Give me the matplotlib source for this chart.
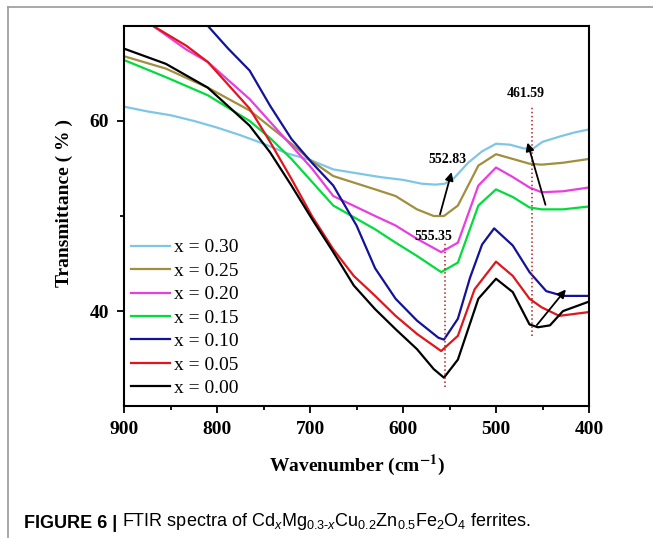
import matplotlib.pyplot as plt
from matplotlib.lines import Line2D

plt.rcParams["mathtext.fontset"] = "custom"
plt.rcParams["mathtext.rm"] = "Liberation Sans"
plt.rcParams["mathtext.it"] = "Liberation Sans:italic"
plt.rcParams["mathtext.bf"] = "Liberation Sans:bold"

# wavenumber (cm-1) / transmittance (%)
wn_030 = [900, 875, 850, 825, 800, 775, 750, 725, 700, 675, 650, 625, 600, 580, 565, 555, 545, 530, 515, 500, 485, 470, 460, 450, 440, 430, 415, 400]
t_030 = [61.5, 61.0, 60.6, 60.0, 59.3, 58.5, 57.6, 56.6, 55.9, 54.9, 54.5, 54.1, 53.8, 53.4, 53.3, 53.4, 54.0, 55.6, 56.8, 57.6, 57.5, 57.1, 57.1, 57.8, 58.1, 58.4, 58.8, 59.1]

wn_025 = [900, 855, 810, 765, 720, 700, 675, 630, 608, 585, 567, 556, 541, 519, 500, 482, 464, 451, 428, 400]
t_025 = [66.8, 65.5, 63.5, 61.1, 57.6, 55.9, 54.2, 52.8, 52.1, 50.7, 50.0, 50.0, 51.1, 55.3, 56.5, 56.0, 55.5, 55.4, 55.6, 56.0]

wn_020 = [900, 869, 833, 810, 765, 720, 698, 675, 630, 608, 585, 559, 541, 519, 500, 482, 464, 451, 428, 400]
t_020 = [72.5, 70.0, 67.5, 66.2, 62.3, 57.4, 55.0, 52.1, 50.0, 49.0, 47.6, 46.2, 47.2, 53.2, 55.1, 54.1, 53.0, 52.5, 52.6, 53.0]

wn_015 = [900, 855, 810, 765, 743, 720, 675, 630, 608, 585, 559, 541, 519, 500, 482, 464, 451, 428, 400]
t_015 = [66.4, 64.6, 62.7, 60.0, 58.2, 56.0, 51.1, 48.6, 47.2, 45.8, 44.1, 45.1, 51.1, 52.8, 52.0, 50.9, 50.7, 50.7, 51.0]

wn_010 = [900, 810, 788, 765, 743, 720, 698, 675, 650, 630, 608, 585, 562, 556, 541, 528, 515, 502, 482, 464, 446, 428, 400]
t_010 = [80.0, 70.0, 67.6, 65.3, 61.6, 58.1, 55.6, 53.2, 49.0, 44.5, 41.3, 39.0, 37.2, 37.0, 39.2, 43.5, 47.0, 48.7, 46.9, 44.1, 42.1, 41.6, 41.6]

wn_005 = [900, 869, 833, 810, 765, 743, 720, 698, 675, 653, 630, 608, 585, 559, 541, 523, 500, 482, 464, 451, 432, 400]
t_005 = [73.0, 70.0, 67.9, 66.2, 61.3, 57.8, 53.9, 50.0, 46.5, 43.7, 41.6, 39.5, 37.6, 35.8, 37.4, 42.3, 45.2, 43.7, 41.3, 40.4, 39.5, 39.9]

wn_000 = [900, 855, 810, 765, 743, 720, 698, 675, 653, 630, 608, 585, 567, 556, 541, 519, 500, 482, 464, 455, 442, 428, 400]
t_000 = [67.6, 66.0, 63.5, 59.5, 56.7, 53.2, 49.7, 46.2, 42.7, 40.2, 38.1, 36.0, 33.9, 33.0, 34.9, 41.3, 43.4, 42.0, 38.6, 38.3, 38.5, 40.0, 41.0]

series = [
    ("x = 0.30", wn_030, t_030, "#7fc6e6"),
    ("x = 0.25", wn_025, t_025, "#a08f3c"),
    ("x = 0.20", wn_020, t_020, "#e83ee0"),
    ("x = 0.15", wn_015, t_015, "#00dc3c"),
    ("x = 0.10", wn_010, t_010, "#12129a"),
    ("x = 0.05", wn_005, t_005, "#e0161c"),
    ("x = 0.00", wn_000, t_000, "black"),
]

peak_lines = [555.35, 461.59]

fig = plt.figure(figsize=(6.53, 5.38), dpi=100)
ax = fig.add_axes([0.190, 0.245, 0.712, 0.707])

for label, wn, t, c in series:
    ax.plot(wn, t, color=c, lw=1.6, label=label)

ax.plot([peak_lines[0], peak_lines[0]], [32.0, 47.2], color="#b22222", ls=":", lw=1.1)
ax.plot([peak_lines[1], peak_lines[1]], [37.4, 61.6], color="#b22222", ls=":", lw=1.1)

bold_serif = dict(family="Liberation Serif", fontweight="bold", fontsize=10)
ax.text(467.5, 62.9, "461.59", ha="center", va="center", **bold_serif)
ax.text(552, 55.9, "552.83", ha="center", va="center", **bold_serif)
ax.text(567, 47.8, "555.35", ha="center", va="center", **bold_serif)

arw = dict(arrowstyle="-|>", color="black", lw=1.3, mutation_scale=12)
ax.annotate("", xy=(547, 54.9), xytext=(561, 49.9), arrowprops=arw)
ax.annotate("", xy=(467, 58.0), xytext=(446, 50.9), arrowprops=arw)
ax.annotate("", xy=(423, 42.5), xytext=(458, 38.3), arrowprops=arw)

ax.set_xlim(900, 400)
ax.set_ylim(30, 70)
ax.set_xticks([900, 800, 700, 600, 500, 400])
ax.set_xticks([850, 750, 650, 550, 450], minor=True)
ax.set_yticks([40, 60])
ax.set_yticks([50], minor=True)
ax.tick_params(which="both", direction="out", width=1.3)
ax.tick_params(which="major", length=5, pad=6)
ax.tick_params(which="minor", length=3)
for lab in ax.get_xticklabels() + ax.get_yticklabels():
    lab.set_family("Liberation Serif")
    lab.set_fontweight("bold")
    lab.set_fontsize(14)
for s in ax.spines.values():
    s.set_linewidth(1.5)

ax.set_xlabel(r"Wavenumber (cm$^{\mathbf{-1}}$)", family="Liberation Serif",
              fontweight="bold", fontsize=14, math_fontfamily="stix", labelpad=10)
ax.set_ylabel("Transmittance ( % )", family="Liberation Serif",
              fontweight="bold", fontsize=14)
ax.yaxis.set_label_coords(-0.11, 0.535)

ax.legend(loc="upper left", bbox_to_anchor=(0.015, 0.44), frameon=False,
          prop=dict(family="Liberation Serif", size=14), handlelength=2.0,
          handletextpad=0.2, labelspacing=0.3, borderpad=0, borderaxespad=0)

# grey frame around the figure panel
fig.add_artist(Line2D([8 / 653, 8 / 653], [0, 1 - 7 / 538], color="#9a9a9a", lw=1.2))
fig.add_artist(Line2D([8 / 653, 1], [1 - 7 / 538, 1 - 7 / 538], color="#9a9a9a", lw=1.2))

cap1 = fig.text(24 / 653, 10 / 538, "FIGURE 6 | ", family="Liberation Sans",
                fontweight="bold", fontsize=13, va="baseline")
plt.annotate(r"FTIR spectra of Cd$_{x}$Mg$_{0.3\text{-}x}$Cu$_{0.2}$Zn$_{0.5}$Fe$_{2}$O$_{4}$ ferrites.",
             xy=(1, 0), xycoords=cap1, va="bottom", ha="left",
             family="Liberation Sans", fontsize=13, annotation_clip=False)

fig.savefig("out.png", dpi=100)
